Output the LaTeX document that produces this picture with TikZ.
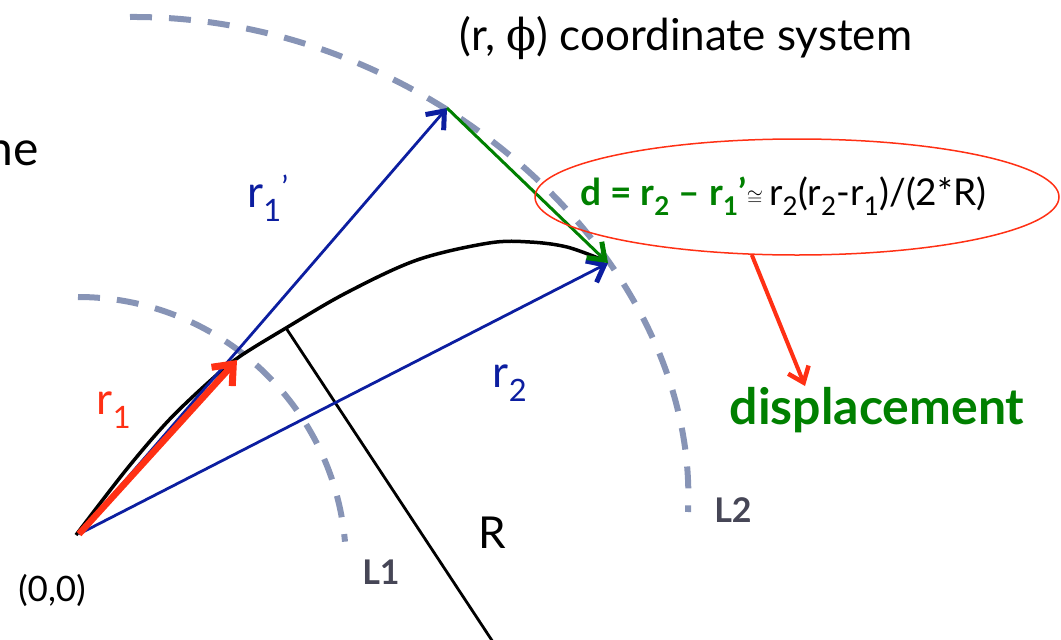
\documentclass[tikz,border=0pt]{standalone}
\usepackage{fontspec}
\setmainfont{Lato}
\newfontfamily\symfont{DejaVu Serif}
\usetikzlibrary{arrows.meta,positioning,calc,shapes.geometric}
\definecolor{cvec}{RGB}{12,30,160}
\definecolor{cred}{RGB}{255,48,20}
\definecolor{cdisp}{RGB}{0,128,0}
\definecolor{carc}{RGB}{135,148,182}
\definecolor{clab}{RGB}{70,70,86}
\newcommand{\fsz}[1]{\fontsize{#1}{#1}\selectfont}

\begin{document}
\begin{tikzpicture}[x=1pt,y=-1pt,
    vec/.style={cvec, line width=2.8pt, -{Straight Barb[length=15pt,width=24pt,line width=5pt]}},
    layer/.style={carc, line width=6pt, dash pattern=on 22pt off 17pt},
    lbl/.style={font=\fsz{44}}]
  \useasboundingbox (0,0) rectangle (1061,640);
  % points
  \coordinate (O) at (79,534);
  \coordinate (tipA) at (237,360);
  \coordinate (tipB) at (447,108);
  \coordinate (tipC) at (608,263);
  \coordinate (Rfoot) at (286,328);
  \coordinate (Rend) at (493,642);
  \coordinate (dispTip) at (805,386);
  % layers L1 and L2
  \draw[layer] (78,297) arc[start angle=-90, end angle=-5, radius=268];
  \draw[layer] (130,17) .. controls (430,15) and (700,260) .. (688,512);
  % track and radius
  \draw[black, line width=3.5pt] plot[smooth, tension=0.55] coordinates
       {(76,535) (126,470) (169,420) (211,380) (239,357) (286,328) (346,293) (417,260) (489,243) (530,242) (567,247) (603,260)};
  \draw[black, line width=2.8pt] (Rfoot) -- (Rend);
  % vectors
  \draw[vec] (O) -- (tipB);
  \draw[vec] (O) -- (tipC);
  \draw[cred, line width=6.5pt, -{Straight Barb[length=17pt,width=28pt,line width=7pt]}] (O) -- (tipA);
  \draw[cdisp, line width=3pt, -{Straight Barb[length=15pt,width=22pt,line width=5pt]}] (tipB) -- (tipC);
  % labels
  \node[font=\fsz{48}, anchor=base east, inner sep=0pt] (ne) at (39,165) {ne};
  \node[font=\fsz{44}] (title) at (686,38) {(r, {\symfont ϕ}) coordinate system};
  \node[lbl, cvec] (lr1p) at (268,198) {r\textsubscript{1}\textsuperscript{’}};
  \node[lbl, cred] (lr1) at (114,410) {r\textsubscript{1}};
  \node[lbl, cvec] (lr2) at (510,383) {r\textsubscript{2}};
  \node[font=\fsz{37}, anchor=base west, inner sep=0pt] (form) at (580,205)
       {\textcolor{cdisp}{\textbf{d = r\textsubscript{2} – r\textsubscript{1}’}}{\fsz{21}$\cong$}\,r\textsubscript{2}(r\textsubscript{2}-r\textsubscript{1})/(2*R)};
  \node[draw=cred, line width=1.5pt, ellipse, minimum width=524pt, minimum height=116pt] (oval) at (797,197) {};
  \node[font=\fsz{50}\bfseries, cdisp] (disp) at (877,410) {displacement};
  \draw[cred, line width=4pt, -{Straight Barb[length=14pt,width=22pt,line width=4.5pt]}] (oval.-128) -- (dispTip);
  \node[font=\fsz{34}\bfseries, clab] (L1) at (381,572) {L1};
  \node[font=\fsz{34}\bfseries, clab] (L2) at (733,510) {L2};
  \node[lbl] (R) at (492,533) {R};
  \node[font=\fsz{35}] (orig) at (52,590) {(0,0)};
\end{tikzpicture}
\end{document}
